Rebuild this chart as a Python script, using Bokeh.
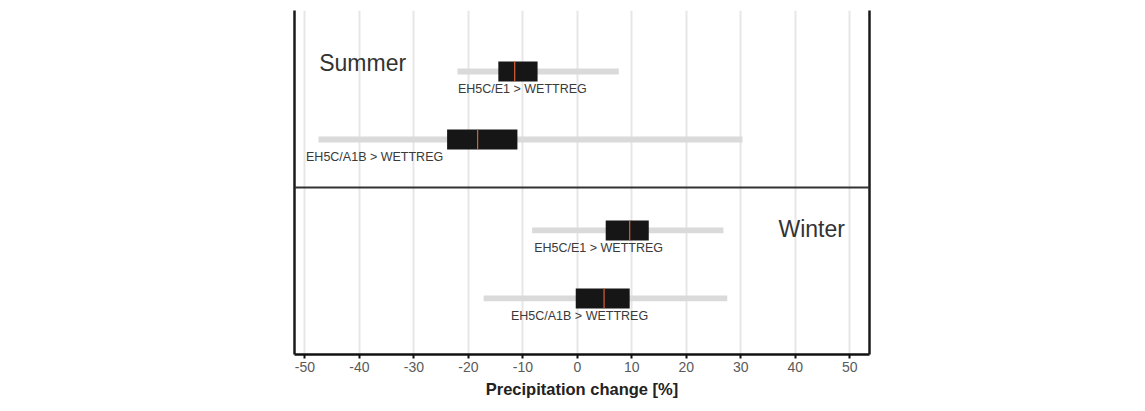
from bokeh.plotting import figure
from bokeh.models import Range1d, FixedTicker, LinearAxis, Span, ColumnDataSource
from bokeh.core.properties import value
from bokeh.embed import file_html
from bokeh.resources import INLINE

# ---- data (precipitation change, %) ----
series = ["EH5C/E1 > WETTREG", "EH5C/A1B > WETTREG", "EH5C/E1 > WETTREG", "EH5C/A1B > WETTREG"]
season = ["Summer", "Summer", "Winter", "Winter"]
low    = [-22.0, -47.5, -8.3, -17.2]
q1     = [-14.5, -23.9, 5.2, -0.3]
median = [-11.5, -18.3, 9.6, 4.9]
q3     = [-7.3, -11.0, 13.1, 9.6]
high   = [7.6, 30.3, 26.8, 27.5]
tick_values = [-50, -40, -30, -20, -10, 0, 10, 20, 30, 40, 50]

# ---- layout (row positions and annotation anchors) ----
row_y = [3.338, 2.338, 1.0, 0.0]
label_x = [-10.1, -37.2, 3.9, 0.4]
season_text = ["Summer", "Winter"]
season_x = [-39.4, 43.0]
season_y = [3.47, 1.015]
divider_y = 1.632

FONT = "Liberation Sans"

p = figure(width=1137, height=403, output_backend="svg", toolbar_location=None,
           x_range=Range1d(-51.9, 53.6), y_range=Range1d(-0.824, 4.235),
           min_border_left=294, min_border_right=268, min_border_top=10, min_border_bottom=49)
p.outline_line_color = None
p.background_fill_color = "white"
p.border_fill_color = "white"

src = ColumnDataSource(dict(y=row_y, low=low, q1=q1, median=median, q3=q3, high=high,
                            label=series, lx=label_x))

# grid
p.ygrid.visible = False
p.xgrid.ticker = FixedTicker(ticks=tick_values)
p.xgrid.grid_line_color = "#e6e6e6"
p.xgrid.grid_line_width = 2

# whisker bars
p.hbar(y="y", left="low", right="high", height=0.085, source=src,
       fill_color="#dadada", line_color=None)
# boxes
p.hbar(y="y", left="q1", right="q3", height=0.294, source=src,
       fill_color="#161616", line_color=None)
# medians
p.rect(x="median", y="y", width=0.22, height=0.294, source=src,
       fill_color="#d8603c", line_color=None)

# labels under each box
p.text(x="lx", y="y", text="label", source=src, text_align="center", text_baseline="middle",
       y_offset=17.5, text_font=value(FONT), text_font_size="12.5px", text_color="#3a3a3a")

# season labels
p.text(x=season_x, y=season_y, text=season_text, text_align="center", text_baseline="middle",
       text_font=value(FONT), text_font_size="23px", text_color="#333333")

# divider
p.add_layout(Span(location=divider_y, dimension="width", line_color="#333333", line_width=2))

# x axis
xa = p.xaxis[0]
xa.ticker = FixedTicker(ticks=tick_values)
xa.major_label_overrides = {t: str(t) for t in tick_values}
xa.axis_line_color = "#111111"
xa.axis_line_width = 2.5
xa.major_tick_line_color = "#111111"
xa.major_tick_line_width = 2
xa.major_tick_out = 4
xa.major_tick_in = 0
xa.minor_tick_line_color = None
xa.major_label_text_font = FONT
xa.major_label_text_font_size = "14px"
xa.major_label_text_color = "#5a5a5a"
xa.major_label_standoff = 3
xa.axis_label = "Precipitation change [%]"
xa.axis_label_text_font = FONT
xa.axis_label_text_font_style = "bold"
xa.axis_label_text_font_size = "16.5px"
xa.axis_label_text_color = "#222222"
xa.axis_label_standoff = 5

# left / right borders as bare axes
def bare(ax):
    ax.axis_line_color = "#1a1a1a"
    ax.axis_line_width = 2.5
    ax.major_tick_line_color = None
    ax.minor_tick_line_color = None
    ax.major_label_text_font_size = "0px"
    ax.major_label_text_color = None

bare(p.yaxis[0])
ra = LinearAxis()
bare(ra)
p.add_layout(ra, "right")

open("out.html", "w").write(file_html(p, INLINE))
